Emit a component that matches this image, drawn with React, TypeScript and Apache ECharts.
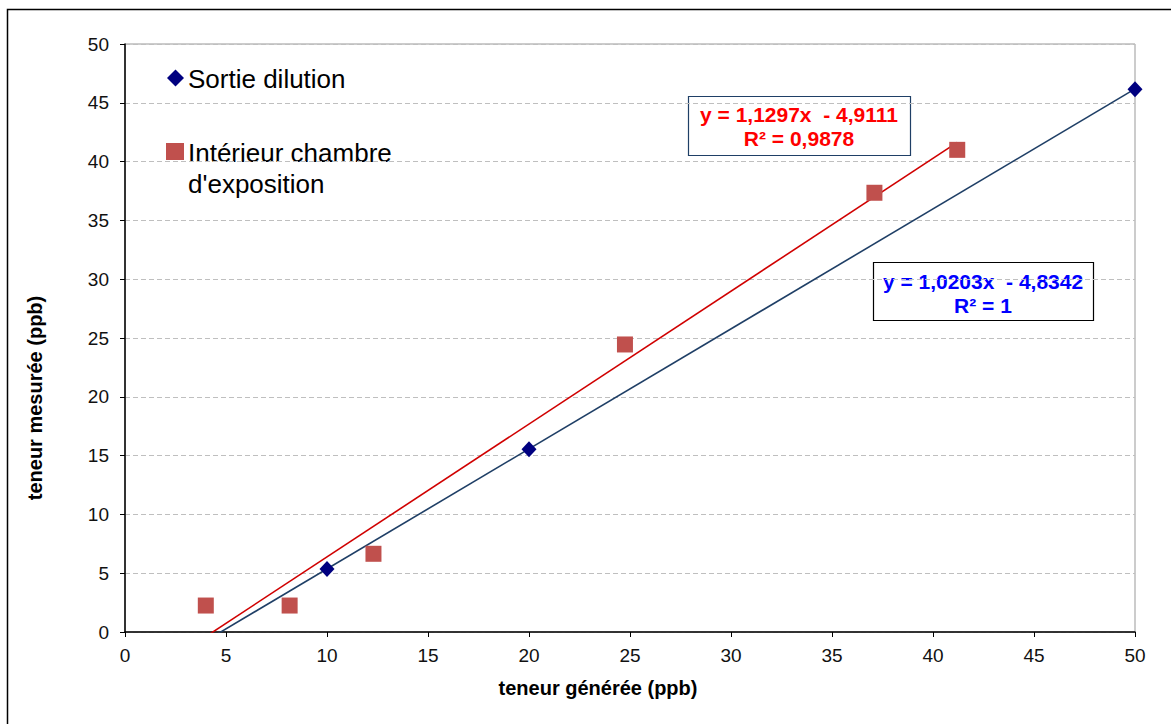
import React, { useEffect, useRef } from "react";
import * as echarts from "echarts";

const xTicks = [0, 5, 10, 15, 20, 25, 30, 35, 40, 45, 50];
const sortieX = [10, 20, 50];
const sortieY = [5.35, 15.55, 46.15];
const chambreX = [4.0, 8.15, 12.3, 24.75, 37.1, 41.2];
const chambreY = [2.25, 2.25, 6.65, 24.45, 37.35, 41.0];
const redFit = { slope: 1.1297, intercept: -4.9111, x0: 4.0, x1: 41.2 };
const blueFit = { slope: 1.0203, intercept: -4.8342, x0: 4.0, x1: 50 };
const redLabel = ["y = 1,1297x  - 4,9111", "R² = 0,9878"];
const blueLabel = ["y = 1,0203x  - 4,8342", "R² = 1"];
const legendNames = ["Sortie dilution", "Intérieur chambre\nd'exposition"];
const xTitle = "teneur générée (ppb)";
const yTitle = "teneur mesurée (ppb)";

const fitLine = (f: { slope: number; intercept: number; x0: number; x1: number }) => [
  [f.x0, f.slope * f.x0 + f.intercept],
  [f.x1, f.slope * f.x1 + f.intercept],
];

export default function App() {
  const ref = useRef<HTMLDivElement>(null);
  useEffect(() => {
    if (!ref.current) return;
    const chart = echarts.init(ref.current, null, { renderer: "svg" });
    const font = "'Liberation Sans', Arial, sans-serif";
    chart.setOption({
      animation: false,
      backgroundColor: "#fff",
      textStyle: { fontFamily: font },
      grid: {
        left: 125,
        right: 36,
        top: 44,
        bottom: 92,
        show: true,
        borderColor: "#999",
        borderWidth: 1,
        backgroundColor: "transparent",
      },
      xAxis: {
        type: "value",
        min: xTicks[0],
        max: xTicks[xTicks.length - 1],
        interval: 5,
        axisLine: { show: true, onZero: false, lineStyle: { color: "#000", width: 1.5 } },
        axisTick: { show: true, inside: false, length: 5, lineStyle: { color: "#000" } },
        axisLabel: { fontSize: 19, color: "#111", margin: 14, fontFamily: font },
        splitLine: { show: false },
      },
      yAxis: {
        type: "value",
        min: 0,
        max: 50,
        interval: 5,
        axisLine: { show: true, onZero: false, lineStyle: { color: "#000", width: 1.5 } },
        axisTick: { show: true, inside: false, length: 5, lineStyle: { color: "#000" } },
        axisLabel: { fontSize: 19, color: "#111", margin: 16, fontFamily: font },
        splitLine: { show: true, lineStyle: { color: "#bfbfbf", type: [5, 3], width: 1 } },
      },
      series: [
        {
          name: "trend-red",
          type: "line",
          data: fitLine(redFit),
          symbol: "none",
          clip: true,
          lineStyle: { color: "#d00000", width: 1.6 },
          z: 2,
        },
        {
          name: "trend-blue",
          type: "line",
          data: fitLine(blueFit),
          symbol: "none",
          clip: true,
          lineStyle: { color: "#1f3f66", width: 1.6 },
          z: 2,
        },
        {
          name: legendNames[1],
          type: "scatter",
          data: chambreX.map((x, i) => [x, chambreY[i]]),
          symbol: "rect",
          symbolSize: 16,
          itemStyle: { color: "#c0504d", opacity: 1 },
          z: 3,
        },
        {
          name: legendNames[0],
          type: "scatter",
          data: sortieX.map((x, i) => [x, sortieY[i]]),
          symbol: "diamond",
          symbolSize: [15, 16],
          itemStyle: { color: "#000080", opacity: 1 },
          z: 4,
        },
      ],
      graphic: [
        {
          type: "rect",
          shape: { x: 7.5, y: 9.5, width: 1180, height: 730 },
          style: { fill: "none", stroke: "#000", lineWidth: 1.5 },
          silent: true,
        },
        // axis titles
        {
          type: "text",
          x: 598,
          y: 688,
          style: {
            text: xTitle,
            font: `bold 20px ${font}`,
            fill: "#000",
            align: "center",
            verticalAlign: "middle",
          },
        },
        {
          type: "text",
          x: 35,
          y: 398,
          rotation: Math.PI / 2,
          style: {
            text: yTitle,
            font: `bold 20px ${font}`,
            fill: "#000",
            align: "center",
            verticalAlign: "middle",
          },
        },
        // legend
        {
          type: "polygon",
          shape: { points: [[175.5, 69.5], [184, 78], [175.5, 86.5], [167, 78]] },
          style: { fill: "#000080" },
        },
        {
          type: "text",
          x: 188,
          y: 79,
          style: { text: legendNames[0], font: `26px ${font}`, fill: "#000", verticalAlign: "middle" },
        },
        {
          type: "rect",
          shape: { x: 166, y: 143, width: 18, height: 17 },
          style: { fill: "#c0504d" },
        },
        {
          type: "text",
          x: 188,
          y: 137,
          style: {
            text: legendNames[1],
            font: `26px ${font}`,
            lineHeight: 31,
            fill: "#000",
            verticalAlign: "top",
          },
        },
        // red equation box
        {
          type: "rect",
          shape: { x: 688.5, y: 96.5, width: 222, height: 59 },
          style: { fill: "#fff", stroke: "#1f3f66", lineWidth: 1.2 },
        },
        {
          type: "text",
          x: 799,
          y: 126,
          style: {
            text: redLabel.join("\n"),
            font: `bold 21px ${font}`,
            lineHeight: 24,
            fill: "#ff0000",
            align: "center",
            verticalAlign: "middle",
          },
        },
        // blue equation box
        {
          type: "rect",
          shape: { x: 873.5, y: 262.5, width: 220, height: 58 },
          style: { fill: "#fff", stroke: "#000", lineWidth: 1.2 },
        },
        {
          type: "text",
          x: 983,
          y: 293,
          style: {
            text: blueLabel.join("\n"),
            font: `bold 21px ${font}`,
            lineHeight: 24,
            fill: "#0000ff",
            align: "center",
            verticalAlign: "middle",
          },
        },
      ],
    });
    return () => chart.dispose();
  }, []);
  return (
    <div
      ref={ref}
      style={{ position: "absolute", left: 0, top: 0, width: 1171, height: 724 }}
    />
  );
}
